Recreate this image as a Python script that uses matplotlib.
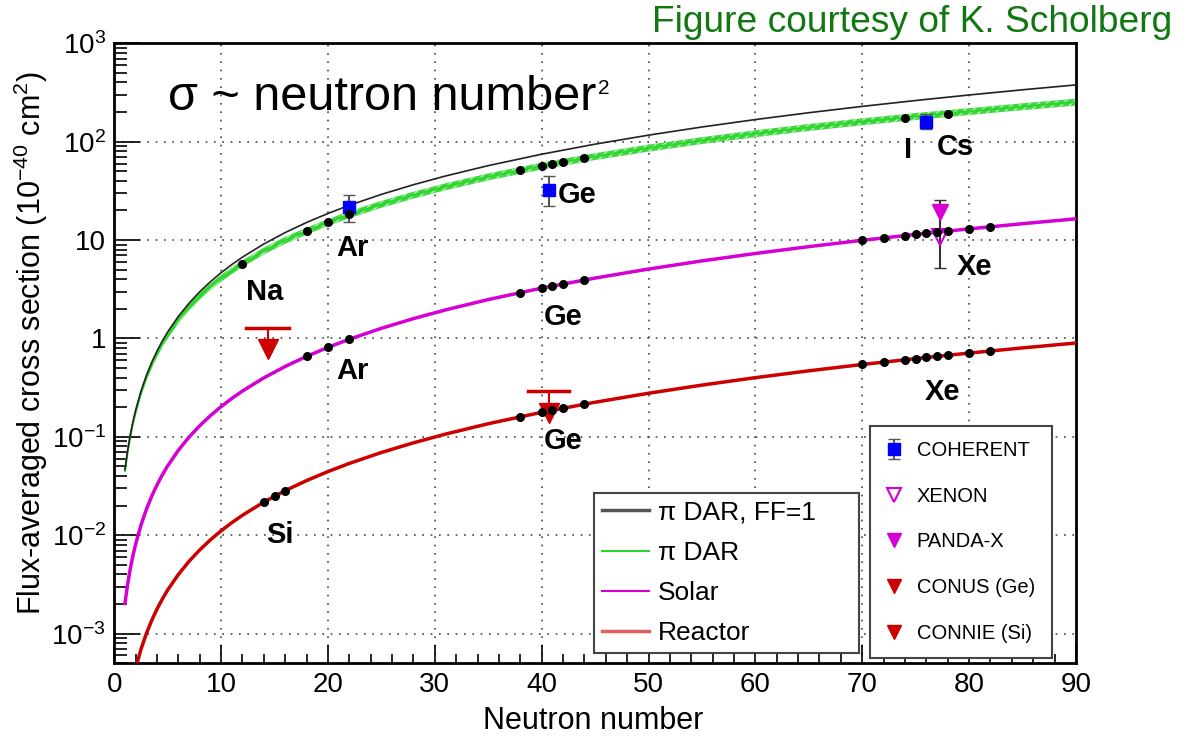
import matplotlib
matplotlib.use("Agg")
import matplotlib.pyplot as plt
from matplotlib.lines import Line2D
from matplotlib.ticker import MultipleLocator, LogLocator, NullFormatter
import numpy as np

plt.rcParams['font.family'] = ['Liberation Sans', 'DejaVu Sans']
plt.rcParams['mathtext.fontset'] = 'custom'
plt.rcParams['mathtext.rm'] = 'Liberation Sans'
plt.rcParams['mathtext.it'] = 'Liberation Sans:italic'
plt.rcParams['mathtext.bf'] = 'Liberation Sans:bold'
plt.rcParams['hatch.linewidth'] = 1.2

# flux-averaged cross sections along the neutron number axis (1e-40 cm^2)
n_curve = [1, 1.25, 1.5, 1.75, 2, 2.5, 3, 3.5, 4, 4.5, 5, 6, 7, 8, 9, 10, 11, 12,
           14, 16, 18, 20, 22, 25, 28, 31, 35, 40, 45, 50, 55, 60, 65, 70, 75,
           80, 85, 90]
sigma_dar_ff1 = [0.0466, 0.0728, 0.1049, 0.1427, 0.1864, 0.2913, 0.4194, 0.5709,
                 0.7456, 0.9437, 1.165, 1.678, 2.283, 2.982, 3.775, 4.66, 5.639,
                 6.710, 9.134, 11.93, 15.10, 18.64, 22.55, 29.13, 36.53, 44.78,
                 57.09, 74.56, 94.37, 116.5, 141.0, 167.8, 196.9, 228.3, 262.1,
                 298.2, 336.7, 377.5]
sigma_dar = [0.0452, 0.0706, 0.1018, 0.1377, 0.1789, 0.2796, 0.3984, 0.5395,
             0.7009, 0.8824, 1.083, 1.544, 2.078, 2.684, 3.360, 4.101, 4.906,
             5.771, 7.764, 9.962, 12.38, 15.10, 18.15, 23.16, 28.68, 34.93,
             43.96, 56.67, 70.78, 86.21, 102.9, 120.8, 139.8, 159.8, 180.8,
             202.8, 227.3, 252.9]
sigma_solar = [0.00203, 0.00317, 0.00457, 0.00622, 0.00812, 0.01269, 0.01827,
               0.02487, 0.03248, 0.04111, 0.05075, 0.07308, 0.09947, 0.1299,
               0.1644, 0.203, 0.2456, 0.2923, 0.3979, 0.5197, 0.6577, 0.812,
               0.9825, 1.269, 1.592, 1.951, 2.487, 3.248, 4.111, 5.075, 6.141,
               7.308, 8.577, 9.947, 11.42, 12.99, 14.67, 16.44]
sigma_reactor = [1.11e-4, 1.73e-4, 2.50e-4, 3.40e-4, 4.44e-4, 6.94e-4, 9.99e-4,
                 1.36e-3, 1.78e-3, 2.25e-3, 2.78e-3, 4.00e-3, 5.44e-3, 7.10e-3,
                 8.99e-3, 0.0111, 0.01343, 0.01598, 0.02176, 0.02842, 0.03596,
                 0.0444, 0.05372, 0.06938, 0.08702, 0.1067, 0.136, 0.1776,
                 0.2248, 0.2775, 0.3358, 0.3996, 0.469, 0.5439, 0.6244, 0.7104,
                 0.802, 0.8991]
dar_band_frac = 0.08

# isotopes of the target nuclei on each curve
dar_iso_n = [12, 18, 20, 22, 38, 40, 41, 42, 44, 74, 78]
dar_iso_sigma = [5.77, 12.4, 15.1, 18.2, 51.5, 56.7, 59.4, 62.1, 67.7, 176, 193]
solar_iso_n = [18, 20, 22, 38, 40, 41, 42, 44, 70, 72, 74, 75, 76, 77, 78, 80, 82]
solar_iso_sigma = [0.658, 0.812, 0.983, 2.93, 3.25, 3.41, 3.58, 3.93, 9.95, 10.5,
                   11.1, 11.4, 11.7, 12.0, 12.4, 13.0, 13.6]
reactor_iso_n = [14, 15, 16, 38, 40, 41, 42, 44, 70, 72, 74, 75, 76, 77, 78, 80, 82]
reactor_iso_sigma = [0.0218, 0.025, 0.0284, 0.160, 0.178, 0.187, 0.196, 0.215,
                     0.544, 0.575, 0.608, 0.624, 0.641, 0.658, 0.675, 0.710, 0.746]

# measurements
coh_n = [22, 40.7, 76]
coh_sigma = [21.7, 32.3, 160]
coh_lo = [15.2, 22.2, 134]
coh_hi = [28.6, 44.8, 191]
xenon_n, xenon_sigma, xenon_lo, xenon_hi = 77.25, 10.8, 5.2, 25.7
pandax_n, pandax_sigma = 77.25, 19.4
conus_n, conus_limit, conus_marker, conus_dn = 40.65, 0.294, 0.175, 1.95
connie_n, connie_limit, connie_marker, connie_dn = 14.35, 1.27, 0.78, 2.0

# element labels
elem_names = ['Na', 'Ar', 'Ge', 'I', 'Cs', 'Ar', 'Ge', 'Xe', 'Xe', 'Ge', 'Si']
elem_n = [14.1, 22.3, 43.3, 74.3, 78.7, 22.3, 42.0, 80.5, 77.5, 42.0, 15.55]
elem_sigma = [2.97, 8.3, 28.7, 82.4, 87.7, 0.469, 1.64, 5.37, 0.288, 0.0908, 0.0101]

ytick_vals = [1e-3, 1e-2, 1e-1, 1, 10, 100, 1000]
ytick_labels = ['$10^{-3}$', '$10^{-2}$', '$10^{-1}$', '1', '10', '$10^{2}$', '$10^{3}$']

GREEN = '#2fd42f'
MAGENTA = '#d400d4'
RED = '#cc0000'

fig = plt.figure(figsize=(11.89, 7.36), dpi=100)
ax = fig.add_axes([0.0961, 0.0988, 0.8088, 0.8424])
ax.set_yscale('log')
ax.set_xlim(0, 90)
ax.set_ylim(5e-4, 1e3)

# curves
dar = np.array(sigma_dar)
ax.fill_between(n_curve, dar * (1 - dar_band_frac), dar * (1 + dar_band_frac),
                facecolor='#3cd83c', edgecolor='#a8f0a8', hatch='////',
                linewidth=0, zorder=2)
ax.plot(n_curve, sigma_dar_ff1, color='#222222', lw=1.2, zorder=3)
ax.plot(n_curve, sigma_dar, color=GREEN, lw=1.5, zorder=2.5)
ax.plot(n_curve, sigma_solar, color=MAGENTA, lw=2.5, zorder=3)
ax.plot(n_curve, sigma_reactor, color=RED, lw=2.5, zorder=3)

# upper limits
for n, lim, mk, dn in [(conus_n, conus_limit, conus_marker, conus_dn),
                       (connie_n, connie_limit, connie_marker, connie_dn)]:
    ax.plot([n - dn, n + dn], [lim, lim], color=RED, lw=2.5, zorder=4)
    ax.plot([n, n], [lim, mk], color=RED, lw=1.5, zorder=4)
    ax.plot([n], [mk], marker='v', ms=15, color=RED, mec=RED, ls='none', zorder=4)

# xenon experiments
ax.errorbar([xenon_n], [xenon_sigma],
            yerr=[[xenon_sigma - xenon_lo], [xenon_hi - xenon_sigma]],
            fmt='none', ecolor='#333333', elinewidth=1.5, capsize=4, zorder=4)
ax.plot([pandax_n], [pandax_sigma], marker='v', ms=11, color=MAGENTA,
        ls='none', zorder=5)
ax.plot([xenon_n], [xenon_sigma], marker='v', ms=12, mfc='none', mec=MAGENTA,
        mew=1.5, ls='none', zorder=5)

# COHERENT
coh_err = [np.array(coh_sigma) - np.array(coh_lo), np.array(coh_hi) - np.array(coh_sigma)]
coh = ax.errorbar(coh_n, coh_sigma, yerr=coh_err, fmt='s', ms=9, color='#0000ff',
                  ecolor='#555555', elinewidth=1.5, capsize=4, zorder=5)

# isotope points
for xs, ys in [(dar_iso_n, dar_iso_sigma), (solar_iso_n, solar_iso_sigma),
               (reactor_iso_n, reactor_iso_sigma)]:
    ax.plot(xs, ys, 'o', color='black', ms=5.5, zorder=6)

for name, n, s in zip(elem_names, elem_n, elem_sigma):
    ax.text(n, s, name, fontsize=21, fontweight='bold', ha='center', va='center',
            zorder=7)

# scaling note, with a small raised exponent after it
note = ax.text(0.0555, 0.892, 'σ ~ neutron number', transform=ax.transAxes,
               fontsize=35, ha='left', va='baseline')
ax.annotate('2', xy=(1, 1), xycoords=note, xytext=(1.5, -3),
            textcoords='offset points', fontsize=15, ha='left', va='top')

# axes styling
ax.xaxis.set_major_locator(MultipleLocator(10))
ax.xaxis.set_minor_locator(MultipleLocator(2))
ax.set_yticks(ytick_vals, ytick_labels)
ax.yaxis.set_minor_locator(LogLocator(base=10, subs=np.arange(2, 10), numticks=20))
ax.yaxis.set_minor_formatter(NullFormatter())
ax.tick_params(axis='both', which='both', direction='in', width=1.2, labelsize=20)
ax.tick_params(axis='x', which='major', length=13, pad=6)
ax.tick_params(axis='x', which='minor', length=6.5)
ax.tick_params(axis='y', which='major', length=19, pad=6)
ax.tick_params(axis='y', which='minor', length=9.5)
for sp in ax.spines.values():
    sp.set_linewidth(2)
ax.grid(True, which='major', linestyle=(0, (1, 4)), color='#444444', lw=1.2, zorder=0)
ax.set_axisbelow(True)

ax.set_xlabel('Neutron number', fontsize=22)
ax.xaxis.set_label_coords(0.498, -0.069)
ax.set_ylabel('Flux-averaged cross section (10$^{-40}$ cm$^{2}$)', fontsize=22)
ax.yaxis.set_label_coords(-0.067, 0.516)

# legends
h_ff1 = Line2D([], [], color='#555555', lw=2.5)
h_dar = Line2D([], [], color=GREEN, lw=1.5)
h_sol = Line2D([], [], color=MAGENTA, lw=1.5)
h_rea = Line2D([], [], color='#e06060', lw=2.5)
leg1 = ax.legend([h_ff1, h_dar, h_sol, h_rea],
                 ['π DAR, FF=1', 'π DAR', 'Solar', 'Reactor'],
                 loc='upper left', bbox_to_anchor=(0.499, 0.015, 0.275, 0.26),
                 mode='expand', borderaxespad=0, fontsize=19, borderpad=0.3,
                 labelspacing=0.61, handlelength=1.78, handletextpad=0.34,
                 fancybox=False, framealpha=1, edgecolor='#444444')
leg1.get_frame().set_linewidth(1.5)
ax.add_artist(leg1)

h_xenon = Line2D([], [], marker='v', ms=10, mfc='none', mec=MAGENTA, mew=1.5, ls='none')
h_pandax = Line2D([], [], marker='v', ms=10, color=MAGENTA, ls='none')
h_conus = Line2D([], [], marker='v', ms=10, color=RED, ls='none')
h_connie = Line2D([], [], marker='v', ms=10, color=RED, ls='none')
leg2 = ax.legend([coh, h_xenon, h_pandax, h_conus, h_connie],
                 ['COHERENT', 'XENON', 'PANDA-X', 'CONUS (Ge)', 'CONNIE (Si)'],
                 loc='upper left', bbox_to_anchor=(0.786, 0.013, 0.189, 0.37),
                 mode='expand', borderaxespad=0, fontsize=14.5, borderpad=0.75,
                 labelspacing=1.33, handlelength=0.92, handletextpad=0.65,
                 numpoints=1, fancybox=False, framealpha=1, edgecolor='#444444')
leg2.get_frame().set_linewidth(1.5)
leg2.set_zorder(10)
leg1.set_zorder(10)

fig.text(0.9857, 1 - 32 / 736, 'Figure courtesy of K. Scholberg', color='#117711',
         fontsize=26.7, ha='right', va='baseline')

fig.savefig('out.png', dpi=100)
